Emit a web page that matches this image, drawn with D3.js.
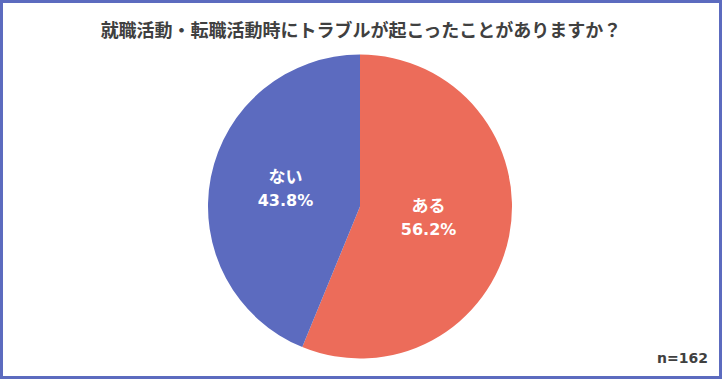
<!DOCTYPE html>
<html><head><meta charset="utf-8">
<script src="https://cdn.jsdelivr.net/npm/d3@7"></script>
<style>body{margin:0;background:#fff}svg{display:block}</style>
</head><body>
<svg id="c" width="722" height="379"></svg>
<script>
const title = "就職活動・転職活動時にトラブルが起こったことがありますか？";
const categories = ["ある", "ない"];
const values = [56.2, 43.8];
const colors = ["#ec6c5a", "#5c6bbf"];
const sampleNote = "n=162";

const svg = d3.select("#c");
const W = 722, H = 379;
const font = "'DejaVu Sans','Noto Sans CJK JP',sans-serif";

svg.append("rect").attr("x",1.5).attr("y",1.5).attr("width",W-3).attr("height",H-3)
  .attr("fill","#fff").attr("stroke","#5c6bbf").attr("stroke-width",3);

svg.append("text").attr("x",361).attr("y",37).attr("text-anchor","middle")
  .attr("font-family","'Noto Sans CJK JP',sans-serif").attr("font-weight","bold").attr("font-size",18)
  .attr("fill","#404040").text(title);

const cx = 360, cy = 206.5, r = 152;
const pie = d3.pie().sort(null).value(d=>d.v);
const data = pie(categories.map((c,i)=>({c, v: values[i], col: colors[i]})));
const arc = d3.arc().innerRadius(0).outerRadius(r);
const labelArc = d3.arc().innerRadius(r*0.48).outerRadius(r*0.48);

const g = svg.append("g").attr("transform",`translate(${cx},${cy})`);
g.selectAll("path").data(data).join("path").attr("d",arc).attr("fill",d=>d.data.col);

const lbl = g.selectAll("text.l").data(data).join("text").attr("class","l")
  .attr("transform",d=>{const [x,y]=labelArc.centroid(d);return `translate(${x-3},${y-5})`;})
  .attr("text-anchor","middle").attr("font-family",font).attr("font-weight","bold")
  .attr("font-size",16).attr("fill","#fff");
lbl.append("tspan").attr("x",0).attr("y",-4).attr("font-family","'Noto Sans CJK JP',sans-serif").attr("font-size",17).text(d=>d.data.c);
lbl.append("tspan").attr("x",0).attr("y",19).text(d=>d.data.v.toFixed(1)+"%");

svg.append("text").attr("x",708).attr("y",363).attr("text-anchor","end")
  .attr("font-family","'DejaVu Sans',sans-serif").attr("font-weight","bold").attr("font-size",14)
  .attr("fill","#404040").text(sampleNote);
</script>
</body></html>
